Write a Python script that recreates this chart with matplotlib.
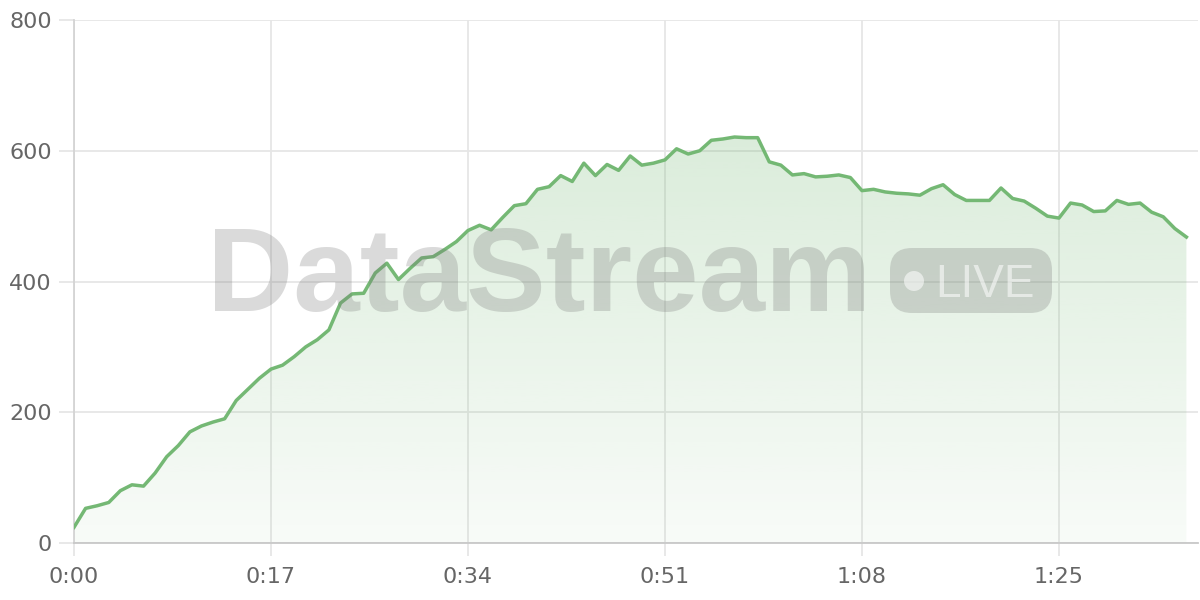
import numpy as np
import matplotlib
matplotlib.use("Agg")
import matplotlib.pyplot as plt
from matplotlib.patches import FancyBboxPatch, Circle
from matplotlib.ticker import FuncFormatter

# seconds since start, one sample per second
seconds = np.arange(97)
viewers = [
    24, 53, 57, 62, 80, 89, 87, 107, 132, 149,
    170, 179, 185, 190, 218, 235, 252, 266, 272, 285,
    300, 311, 326, 367, 381, 382, 413, 428, 403, 420,
    436, 438, 449, 461, 478, 486, 479, 498, 516, 519,
    541, 545, 562, 553, 581, 562, 579, 570, 592, 578,
    581, 586, 603, 595, 600, 616, 618, 621, 620, 620,
    583, 578, 563, 565, 560, 561, 563, 559, 539, 541,
    537, 535, 534, 532, 542, 548, 533, 524, 524, 524,
    543, 527, 523, 512, 500, 497, 520, 517, 507, 508,
    524, 518, 520, 506, 499, 481, 468,
]
x_ticks = [0, 17, 34, 51, 68, 85]
y_ticks = [0, 200, 400, 600, 800]

line_col = "#74b874"
grid_col = "#e6e6e6"
text_col = "#666666"

fig = plt.figure(figsize=(12, 6), dpi=100)
ax = fig.add_axes([74 / 1200, 57 / 600, 1124 / 1200, 523 / 600])
ax.set_xlim(0, 97)
ax.set_ylim(0, 800)

# gradient fill under the line
poly = ax.fill_between(seconds, viewers, 0, color="none", lw=0)
alpha = np.linspace(0.32, 0.05, 256)[:, None]
grad = np.zeros((256, 1, 4))
grad[..., :3] = matplotlib.colors.to_rgb(line_col)
grad[..., 3] = alpha
img = ax.imshow(grad, extent=[0, 97, 0, 800], aspect="auto", origin="upper", zorder=1)
img.set_clip_path(poly.get_paths()[0], transform=ax.transData)

ax.plot(seconds, viewers, color=line_col, lw=2.5, zorder=3, solid_joinstyle="round")

ax.set_xticks(x_ticks)
ax.set_yticks(y_ticks)
ax.xaxis.set_major_formatter(FuncFormatter(lambda s, p: f"{int(s) // 60}:{int(s) % 60:02d}"))
ax.grid(True, color=grid_col, lw=1.3, zorder=0)
ax.set_axisbelow(True)
for side in ["top", "right"]:
    ax.spines[side].set_visible(False)
ax.spines["left"].set_color("#d4d4d4")
ax.spines["bottom"].set_color("#c8c8c8")
ax.spines["left"].set_linewidth(1.3)
ax.spines["bottom"].set_linewidth(1.3)
ax.tick_params(axis="y", length=11, width=1.3, color=grid_col, pad=5,
               labelsize=16, labelcolor=text_col)
ax.tick_params(axis="x", length=9, width=1.3, color=grid_col, pad=8,
               labelsize=16, labelcolor=text_col)
for lab in ax.get_xticklabels() + ax.get_yticklabels():
    lab.set_family("DejaVu Sans")

# watermark on top, drawn in pixel space
wm = fig.add_axes([0, 0, 1, 1])
wm.set_xlim(0, 1200)
wm.set_ylim(600, 0)
wm.axis("off")
wm.patch.set_alpha(0)
wm.text(207, 311, "DataStream", fontsize=86, fontweight="bold",
        family="Liberation Sans", color="#7a7a7a", alpha=0.28,
        ha="left", va="baseline")
badge = FancyBboxPatch((890, 248), 162, 65, boxstyle="round,pad=0,rounding_size=22",
                       fc="#7a7a7a", ec="none", alpha=0.28)
wm.add_patch(badge)
wm.add_patch(Circle((914, 281), 10, fc="white", ec="none", alpha=0.55))
wm.text(985, 297, "LIVE", fontsize=33, family="Liberation Sans", color="white",
        alpha=0.55, ha="center", va="baseline")

fig.savefig("out.png", dpi=100)
